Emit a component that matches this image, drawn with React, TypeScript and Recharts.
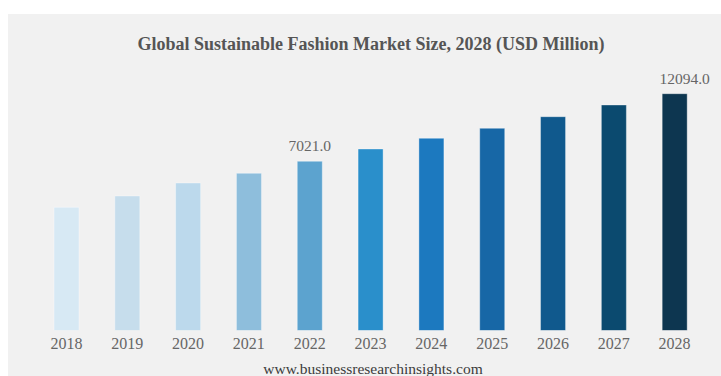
import { BarChart, Bar, XAxis, YAxis, Cell, LabelList } from 'recharts';

// values, calibrated on the two labelled bars (2022, 2028)
const YEARS = ['2018', '2019', '2020', '2021', '2022', '2023', '2024', '2025', '2026', '2027', '2028'];
const MARKET_SIZE = [3569, 4417, 5392, 6120, 7021, 7944, 8747, 9497, 10368, 11246, 12094];
const VALUE_LABELS = ['', '', '', '', '7021.0', '', '', '', '', '', '12094.0'];

// the source axis does not start at zero
const AXIS_FLOOR = -5676;
const AXIS_CEIL = 14622;

const BAR_COLORS = [
  '#d7e9f4', '#c6ddec', '#bcd9ec', '#8ebedc', '#5ca3cf', '#2a8fcb',
  '#1c79bf', '#1767a6', '#10598d', '#0b4a6f', '#0d3650',
];

const FONT = '"Liberation Serif", "Times New Roman", serif';

const data = YEARS.map((year, i) => ({ year, value: MARKET_SIZE[i], label: VALUE_LABELS[i] }));

const renderValueLabel = (props: any) => {
  const { x, y, width, value, index } = props;
  if (!value) return null;
  const shift = index === YEARS.length - 1 ? 10 : 0;
  return (
    <text x={Number(x) + Number(width) / 2 + shift} y={Number(y) - 10} textAnchor="middle"
      fill="#666" fontSize={15.5} fontFamily={FONT}>
      {value}
    </text>
  );
};

export default function App() {
  return (
    <div style={{ position: 'fixed', left: 8, top: 14, width: 713, height: 362, background: '#f1f1f1', overflow: 'hidden' }}>
      <svg width={713} height={362} style={{ position: 'absolute', left: 0, top: 0 }}>
        <text x={363} y={36} textAnchor="middle" fill="#555" fontSize={18} fontWeight="bold" fontFamily={FONT}>
          Global Sustainable Fashion Market Size, 2028 (USD Million)
        </text>
        <text x={365} y={360} textAnchor="middle" fill="#3c3c3c" fontSize={15.5} fontFamily={FONT}>
          www.businessresearchinsights.com
        </text>
      </svg>
      <div style={{ position: 'absolute', left: 0, top: 0 }}>
        <BarChart width={713} height={362} data={data} margin={{ top: 46, right: 16, left: 28, bottom: 15.5 }}>
          <XAxis dataKey="year" axisLine={false} tickLine={false} height={30} tickMargin={1}
            tick={{ fill: '#666', fontSize: 16, fontFamily: FONT }} interval={0} />
          <YAxis hide type="number" domain={[AXIS_FLOOR, AXIS_CEIL]} allowDataOverflow />
          <Bar dataKey={(d: any) => [AXIS_FLOOR, d.value]} barSize={25} isAnimationActive={false}
            stroke="rgba(255,255,255,0.35)" strokeWidth={1}>
            {data.map((d, i) => <Cell key={d.year} fill={BAR_COLORS[i]} />)}
            <LabelList dataKey="label" content={renderValueLabel} />
          </Bar>
        </BarChart>
      </div>
    </div>
  );
}
